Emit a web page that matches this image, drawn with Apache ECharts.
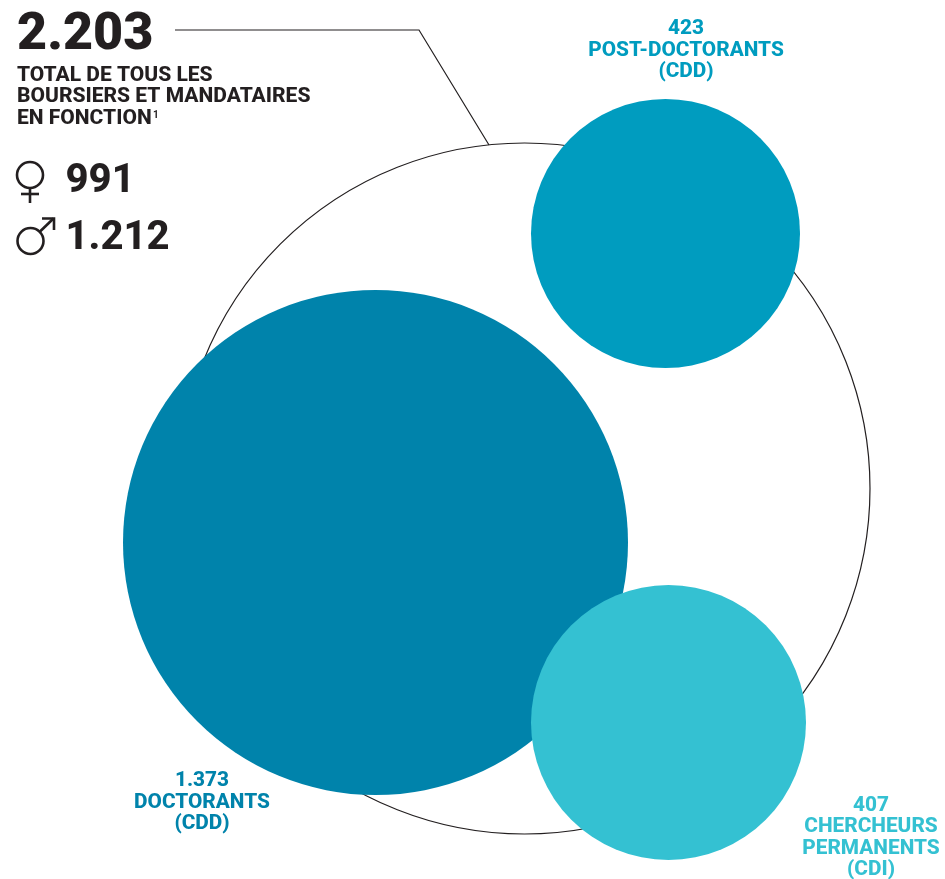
<!DOCTYPE html>
<html lang="fr">
<head>
<meta charset="utf-8">
<title>Boursiers et mandataires en fonction</title>
<style>html,body{margin:0;padding:0;background:#fff}#chart{width:945px;height:879px}</style>
<script src="https://cdn.jsdelivr.net/npm/echarts@6/dist/echarts.min.js"></script>
</head>
<body>
<div id="chart"></div>
<script>
// Effectifs
const total = 2203;
const women = 991;
const men = 1212;
const doctorants = 1373;
const postDoctorants = 423;
const chercheurs = 407;

// Libellés sous chaque effectif
const totalCaption = ['TOTAL DE TOUS LES', 'BOURSIERS ET MANDATAIRES', 'EN FONCTION'];
const doctorantsCaption = ['DOCTORANTS', '(CDD)'];
const postCaption = ['POST-DOCTORANTS', '(CDD)'];
const chercheursCaption = ['CHERCHEURS', 'PERMANENTS', '(CDI)'];

// Disposition des bulles : centre et diamètre
const bubbleLayout = {
  total: { at: [524.5, 488.5], size: 691 },
  doctorants: { at: [375.5, 542.5], size: 505 },
  post: { at: [665.5, 233.5], size: 269 },
  chercheurs: { at: [668.5, 722.5], size: 275 }
};

const INK = '#231f20';
const DOCT = '#0083ab';
const POST = '#009cbf';
const CHER = '#34c1d2';

const fmt = v => String(v).replace(/\B(?=(\d{3})+$)/g, '.');
const FONT = 'Roboto';

function bubble(key, value, style) {
  const b = bubbleLayout[key];
  return {
    type: 'scatter',
    name: key,
    silent: true,
    symbol: 'circle',
    symbolSize: b.size,
    itemStyle: Object.assign({ opacity: 1 }, style),
    data: [[b.at[0], b.at[1], value]],
    animation: false
  };
}

// Le texte est calé par le haut : on remonte d'une fraction du corps pour viser la ligne de base
function line(text, x, baseline, size, color, weight, align) {
  return {
    type: 'text', silent: true, x, y: baseline - size * 0.78,
    style: {
      text, fill: color, align: align || 'left', verticalAlign: 'top',
      font: `${weight || 700} ${size}px ${FONT}`
    }
  };
}

function block(value, caption, cx, firstBaseline, color) {
  const rows = [fmt(value)].concat(caption);
  return rows.map((t, i) => line(t, cx, firstBaseline + i * 21.4, 20.8, color, 800, 'center'));
}

const strokeStyle = { stroke: INK, lineWidth: 2.6, fill: 'none' };

const graphics = [
  // Filet reliant le total au grand cercle
  { type: 'polyline', silent: true, shape: { points: [[175, 30], [419, 30], [489, 145]] },
    style: { stroke: INK, lineWidth: 1.2, fill: 'none' } },
  line(fmt(total), 17, 51, 52, INK, 900),
  line(totalCaption[0], 17, 81.5, 21, INK, 800),
  line(totalCaption[1], 17, 103, 21, INK, 800),
  line(totalCaption[2], 17, 124.5, 21, INK, 800),
  line('1', 153, 118, 10, INK, 700),
  // Symbole féminin
  { type: 'circle', silent: true, shape: { cx: 30, cy: 175, r: 13 }, style: strokeStyle },
  { type: 'polyline', silent: true, shape: { points: [[30, 188], [30, 203]] }, style: strokeStyle },
  { type: 'polyline', silent: true, shape: { points: [[21, 194], [39, 194]] }, style: strokeStyle },
  line(fmt(women), 65.5, 193, 40, INK, 800),
  // Symbole masculin
  { type: 'circle', silent: true, shape: { cx: 30.5, cy: 241, r: 13 }, style: strokeStyle },
  { type: 'polyline', silent: true, shape: { points: [[40, 231.5], [53.5, 218.5]] }, style: strokeStyle },
  { type: 'polyline', silent: true, shape: { points: [[42, 218.5], [54, 218.5], [54, 230]] }, style: strokeStyle },
  line(fmt(men), 65.5, 250, 40, INK, 800)
].concat(
  block(postDoctorants, postCaption, 686, 35, POST),
  block(doctorants, doctorantsCaption, 202, 787, DOCT),
  block(chercheurs, chercheursCaption, 871, 811.5, CHER)
);

const chart = echarts.init(document.getElementById('chart'), null, { renderer: 'canvas' });
chart.setOption({
  animation: false,
  backgroundColor: '#fff',
  grid: { left: 0, right: 0, top: 0, bottom: 0 },
  xAxis: { type: 'value', min: 0, max: 945, show: false },
  yAxis: { type: 'value', min: 0, max: 879, inverse: true, show: false },
  series: [
    bubble('total', total, { color: 'rgba(0,0,0,0)', borderColor: INK, borderWidth: 1.2 }),
    bubble('doctorants', doctorants, { color: DOCT }),
    bubble('chercheurs', chercheurs, { color: CHER }),
    bubble('post', postDoctorants, { color: POST })
  ],
  graphic: graphics
});
</script>
</body>
</html>
